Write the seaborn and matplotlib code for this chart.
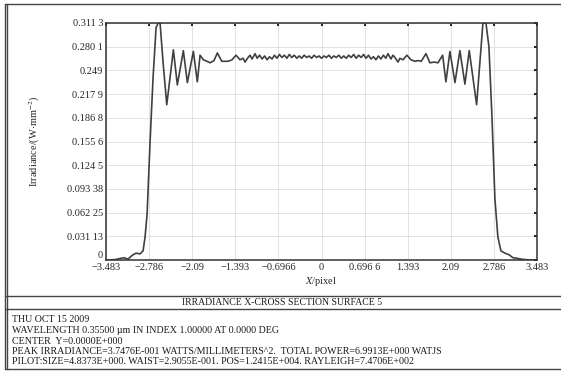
import numpy as np
import matplotlib
matplotlib.use("Agg")
import matplotlib.pyplot as plt
from matplotlib.lines import Line2D
import seaborn as sns

# irradiance cross-section
x_left = [-3.483, -3.337, -3.255, -3.191, -3.126, -3.062, -2.997, -2.932, -2.884,
          -2.852, -2.819, -2.771, -2.722, -2.674, -2.641, -2.609, -2.561, -2.501,
          -2.394, -2.330, -2.233, -2.168, -2.071, -2.007, -1.963, -1.910, -1.850,
          -1.801, -1.737, -1.683, -1.612, -1.510, -1.446, -1.381, -1.317, -1.268,
          -1.236, -1.187, -1.155, -1.123, -1.074]
y_left = [0.0, 0.0005, 0.002, 0.003, 0.001, 0.006, 0.009, 0.008, 0.012,
          0.030, 0.060, 0.155, 0.240, 0.305, 0.3113, 0.311, 0.260, 0.204,
          0.276, 0.230, 0.275, 0.233, 0.274, 0.234, 0.269, 0.263, 0.261,
          0.259, 0.262, 0.272, 0.261, 0.261, 0.263, 0.269, 0.263, 0.265,
          0.260, 0.266, 0.269, 0.264, 0.271]

x_mid = [-1.04, -1.00, -0.96, -0.92, -0.88, -0.84, -0.80, -0.76, -0.72, -0.68,
         -0.64, -0.60, -0.56, -0.52, -0.48, -0.44, -0.40, -0.36, -0.32, -0.28,
         -0.24, -0.20, -0.16, -0.12, -0.08, -0.04, 0.00, 0.04, 0.08, 0.12,
         0.16, 0.20, 0.24, 0.28, 0.32, 0.36, 0.40, 0.44, 0.48, 0.52,
         0.56, 0.60, 0.64, 0.68, 0.72, 0.76, 0.80, 0.84, 0.88, 0.92,
         0.96, 1.00, 1.04]
y_mid = [0.265, 0.269, 0.264, 0.268, 0.263, 0.267, 0.264, 0.269, 0.265, 0.270,
         0.266, 0.269, 0.265, 0.270, 0.266, 0.269, 0.265, 0.268, 0.265, 0.269,
         0.266, 0.268, 0.265, 0.269, 0.266, 0.268, 0.265, 0.268, 0.266, 0.269,
         0.265, 0.268, 0.266, 0.269, 0.265, 0.268, 0.265, 0.269, 0.266, 0.270,
         0.265, 0.269, 0.266, 0.270, 0.265, 0.269, 0.264, 0.267, 0.263, 0.268,
         0.264, 0.269, 0.265]

x_right = [1.074, 1.123, 1.155, 1.187, 1.236, 1.268, 1.317, 1.381, 1.446, 1.510,
           1.560, 1.612, 1.688, 1.753, 1.820, 1.882, 1.958, 2.011, 2.076, 2.157,
           2.237, 2.318, 2.388, 2.507, 2.609, 2.658, 2.706, 2.754, 2.803, 2.851,
           2.900, 2.964, 3.029, 3.094, 3.175, 3.239, 3.368, 3.483]
y_right = [0.271, 0.264, 0.269, 0.266, 0.260, 0.265, 0.263, 0.269, 0.263, 0.261,
           0.262, 0.261, 0.271, 0.259, 0.260, 0.259, 0.269, 0.234, 0.274, 0.233,
           0.275, 0.231, 0.275, 0.204, 0.311, 0.3113, 0.280, 0.190, 0.080, 0.030,
           0.012, 0.009, 0.007, 0.003, 0.002, 0.001, 0.0, 0.0]

x_ticks = [-3.483, -2.786, -2.09, -1.393, -0.6966, 0, 0.6966, 1.393, 2.09, 2.786, 3.483]
x_labels = ["\u22123.483", "\u22122.786", "\u22122.09", "\u22121.393", "\u22120.6966",
            "0", "0.696 6", "1.393", "2.09", "2.786", "3.483"]
y_ticks = [0, 0.03113, 0.06225, 0.09338, 0.1245, 0.1556, 0.1868, 0.2179, 0.249,
           0.2801, 0.3113]
y_labels = ["0", "0.031 13", "0.062 25", "0.093 38", "0.124 5", "0.155 6",
            "0.186 8", "0.217 9", "0.249", "0.280 1", "0.311 3"]

title_text = "IRRADIANCE X-CROSS SECTION SURFACE 5"
info_lines = [
    "THU OCT 15 2009",
    "WAVELENGTH 0.35500 \u00b5m IN INDEX 1.00000 AT 0.0000 DEG",
    "CENTER  Y=0.0000E+000",
    "PEAK IRRADIANCE=3.7476E-001 WATTS/MILLIMETERS^2.  TOTAL POWER=6.9913E+000 WATJS",
    "PILOT:SIZE=4.8373E+000. WAIST=2.9055E-001. POS=1.2415E+004. RAYLEIGH=7.4706E+002",
]

sns.set_style("white")
plt.rcParams["font.family"] = ["Liberation Serif", "DejaVu Serif"]
plt.rcParams["mathtext.fontset"] = "stix"
plt.rcParams["text.color"] = "#1a1a1a"

W, H = 561, 373
fig = plt.figure(figsize=(W / 100, H / 100), dpi=100)


def fx(px):
    return px / W


def fy(py):
    return 1 - py / H


ax = fig.add_axes([fx(106), fy(260), fx(537) - fx(106), fy(23) - fy(260)])

xs = x_left + x_mid + x_right
ys = y_left + y_mid + y_right
sns.lineplot(x=xs, y=ys, ax=ax, color="#404040", linewidth=1.2, sort=False)

ax.set_xlim(-3.483, 3.483)
ax.set_ylim(0, 0.31125)
ax.set_xticks(x_ticks)
ax.set_xticklabels(x_labels, fontsize=7.5)
ax.set_yticks(y_ticks)
ax.set_yticklabels(y_labels, fontsize=7.5)
ax.get_yticklabels()[0].set_va("bottom")
ax.grid(True, color="#dddddd", linewidth=0.6)
ax.tick_params(direction="in", length=2.5, width=1.4, color="#222222",
               top=True, right=True, pad=2)
for s in ax.spines.values():
    s.set_color("#333333")
    s.set_linewidth(1.1)

ax.set_xlabel(r"$X$/pixel", fontsize=7.5, labelpad=2)
ax.set_ylabel(r"Irradiance/(W$\cdot$mm$^{-2}$)", fontsize=7.5, labelpad=18)

# frame around the plot and text block
frame_kw = dict(color="#444444", linewidth=1.0, transform=fig.transFigure)
for py in [4, 369]:
    fig.add_artist(Line2D([fx(5), fx(561)], [fy(py), fy(py)], **frame_kw))
for py in [296, 309]:
    fig.add_artist(Line2D([fx(5), fx(561)], [fy(py), fy(py)], **frame_kw))
for px in [5, 7]:
    fig.add_artist(Line2D([fx(px), fx(px)], [fy(4), fy(369)], **frame_kw))

fig.text(fx(282), fy(302.5), title_text, ha="center", va="center", fontsize=7)
for i, line in enumerate(info_lines):
    fig.text(fx(12), fy(320 + i * 10.5), line, ha="left", va="center", fontsize=7.2)

fig.savefig("out.png", dpi=100)
